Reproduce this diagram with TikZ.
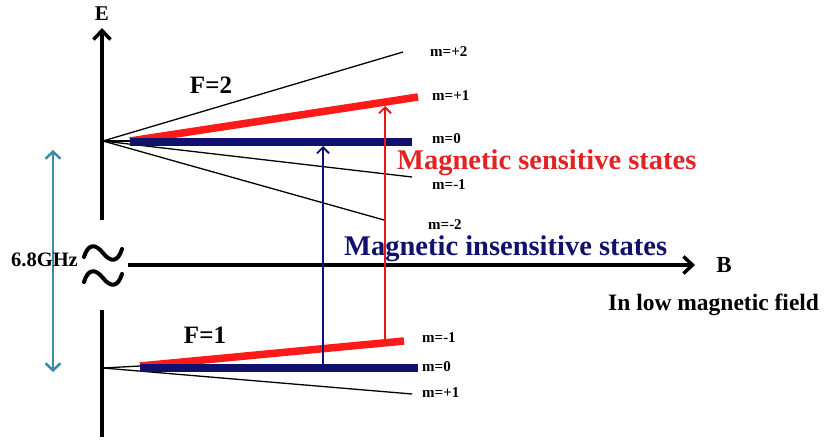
\documentclass[tikz,border=0pt]{standalone}
\usepackage{fontspec}
\setmainfont{Liberation Serif}
\usetikzlibrary{positioning, arrows.meta}
\definecolor{levelred}{HTML}{FF1A1A}
\definecolor{levelnavy}{HTML}{10106E}
\definecolor{textred}{HTML}{E32222}
\definecolor{gapteal}{HTML}{3B8AAA}

\begin{document}
\begin{tikzpicture}[x=1pt, y=-1pt, font=\bfseries,
  axis/.style={line width=3.5pt, -{Straight Barb[length=9pt, width=17pt]}},
  thinlevel/.style={line width=1.3pt},
  thicklevel/.style={line width=7.5pt},
  transition/.style={line width=1.8pt, -{Straight Barb[length=6pt, width=12pt]}},
  mlabel/.style={anchor=west, inner sep=0pt, font=\bfseries\fontsize{15}{17}\selectfont},
  bigtext/.style={anchor=west, inner sep=0pt, font=\bfseries\fontsize{28.5}{33}\selectfont}]
  \useasboundingbox (0,0) rectangle (824,441);

  % axes
  \coordinate (Ebot) at (102,220);
  \coordinate (Etop) at (102,28);
  \draw[axis] (Ebot) -- (Etop);
  \node[font=\bfseries\fontsize{21}{23}\selectfont] (E) at (102,14) {E};
  \coordinate (Elow) at (102,310);
  \coordinate (Eend) at (102,437);
  \draw[line width=3.5pt] (Elow) -- (Eend);
  \coordinate (Bstart) at (128,265);
  \coordinate (Btip) at (695,265);
  \draw[axis] (Bstart) -- (Btip);
  \node[font=\bfseries\fontsize{23}{25}\selectfont] (B) at (724,265) {B};
  \node[anchor=west, inner sep=0pt, font=\bfseries\fontsize{23.5}{26}\selectfont] (low) at (608,305) {In low magnetic field};

  % axis break
  \foreach \dy in {0,25}
    \draw[line width=4pt, line cap=round] (84,257+\dy) .. controls (88,244+\dy) and (95,243+\dy) .. (103,253+\dy)
      .. controls (111,263+\dy) and (118,262+\dy) .. (122,249+\dy);

  % hyperfine splitting
  \coordinate (gtop) at (53,150);
  \coordinate (gbot) at (53,372);
  \draw[line width=2.5pt, gapteal, {Straight Barb[length=7pt, width=15pt]}-{Straight Barb[length=7pt, width=15pt]}] (gtop) -- (gbot);
  \node[anchor=west, inner sep=0pt, font=\bfseries\fontsize{20.5}{23}\selectfont] (gap) at (11,260) {6.8GHz};

  % F=2 manifold
  \coordinate (F2) at (103,141);
  \coordinate (F2s) at (130,141);
  \coordinate (F2p2) at (403,52);
  \coordinate (F2p1) at (418,97);
  \coordinate (F2z) at (412,142);
  \coordinate (F2m1) at (412,177);
  \coordinate (F2m2) at (384,220);
  \draw[thinlevel] (F2) -- (F2p2);
  \draw[thinlevel] (F2) -- (F2m1);
  \draw[thinlevel] (F2) -- (F2m2);
  \draw[thinlevel] (F2) -- (F2s);
  \draw[thicklevel, levelred] (F2s) -- (F2p1);
  \draw[thicklevel, levelnavy] (F2s |- F2z) -- (F2z);
  \node[font=\bfseries\fontsize{25}{30}\selectfont] (F2lab) at (211,85) {F=2};
  \node[mlabel] (m2p2) at (430,52) {m=+2};
  \node[mlabel] (m2p1) at (432,96) {m=+1};
  \node[mlabel] (m2z) at (432,139) {m=0};
  \node[mlabel] (m2m1) at (432,185) {m=-1};
  \node[mlabel] (m2m2) at (428,225) {m=-2};

  % F=1 manifold
  \coordinate (F1) at (103,368);
  \coordinate (F1s) at (140,366);
  \coordinate (F1m1) at (404,341);
  \coordinate (F1z) at (418,368);
  \coordinate (F1p1) at (412,394);
  \draw[thinlevel] (F1) -- (F1p1);
  \draw[thinlevel] (F1) -- (F1s);
  \draw[thicklevel, levelred] (F1s) -- (F1m1);
  \draw[thicklevel, levelnavy] (F1s |- F1z) -- (F1z);
  \node[font=\bfseries\fontsize{25}{30}\selectfont] (F1lab) at (205,335) {F=1};
  \node[mlabel] (m1m1) at (422,338) {m=-1};
  \node[mlabel] (m1z) at (422,367) {m=0};
  \node[mlabel] (m1p1) at (422,393) {m=+1};

  % transitions
  \node[bigtext, textred] (sens) at (397,163) {Magnetic sensitive states};
  \node[bigtext, levelnavy] (insens) at (344,249) {Magnetic insensitive states};
  \coordinate (nlo) at (323,364);
  \coordinate (nhi) at (323,146);
  \coordinate (rlo) at (385,339);
  \coordinate (rhi) at (385,106);
  \draw[transition, levelnavy] (nlo) -- (nhi);
  \draw[transition, levelred!90!black] (rlo) -- (rhi);
\end{tikzpicture}
\end{document}
